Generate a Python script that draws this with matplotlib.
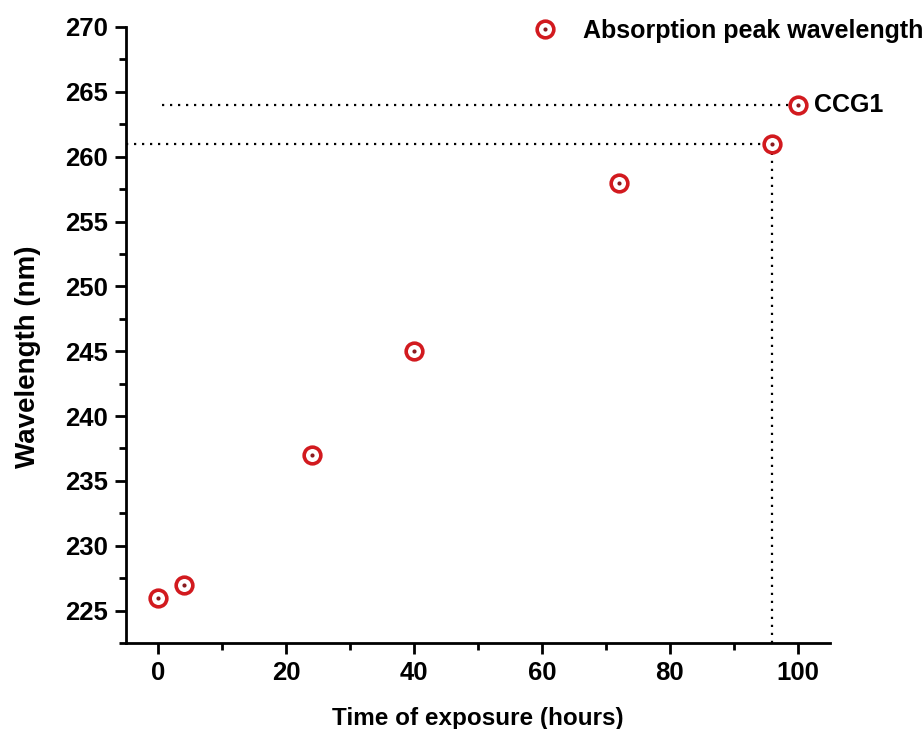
import numpy as np
import matplotlib
matplotlib.use("Agg")
import matplotlib.pyplot as plt
from matplotlib.ticker import MultipleLocator

plt.rcParams['font.family'] = ['Liberation Sans', 'DejaVu Sans']
plt.rcParams['font.weight'] = 'bold'

# data
hours = [0, 4, 24, 40, 72, 96, 100]
wavelength = [226, 227, 237, 245, 258, 261, 264]
guide_x = 96
guide_y = 261
ccg1_x = 100
ccg1_y = 264

fig = plt.figure(figsize=(9.24, 7.29), dpi=100)
ax = fig.add_axes([0.1364, 0.118, 0.898 - 0.1364, 0.963 - 0.118])

# dotted guide lines
ax.plot([-5, guide_x], [guide_y, guide_y], color='k', lw=1.6, dashes=(1, 2.6))
ax.plot([guide_x, guide_x], [222.5, guide_y], color='k', lw=1.6, dashes=(1, 2.6))
ax.plot([0.6, ccg1_x], [ccg1_y, ccg1_y], color='k', lw=1.6, dashes=(1, 2.6))

red = '#d21a1f'
h1, = ax.plot(hours, wavelength, 'o', ms=12, mfc='white', mec=red, mew=2.6, zorder=3)
h2, = ax.plot(hours, wavelength, 'o', ms=3, mfc='#8a1a1f', mec='#8a1a1f', mew=0, zorder=4)

ax.text(ccg1_x + 2.5, ccg1_y, 'CCG1', fontsize=18, fontweight='bold', va='center', ha='left')

leg = ax.legend([(h1, h2)], ['Absorption peak wavelength'], loc='center left',
                bbox_to_anchor=(0.563, 0.958), bbox_transform=fig.transFigure,
                frameon=False, fontsize=18, handlelength=1.0, handletextpad=1.0,
                borderpad=0)

ax.set_xlim(-5, 105)
ax.set_ylim(222.5, 270)
ax.xaxis.set_major_locator(MultipleLocator(20))
ax.xaxis.set_minor_locator(MultipleLocator(10))
ax.yaxis.set_major_locator(MultipleLocator(5))
ax.yaxis.set_minor_locator(MultipleLocator(2.5))

for s in ['top', 'right']:
    ax.spines[s].set_visible(False)
for s in ['left', 'bottom']:
    ax.spines[s].set_linewidth(2)

ax.tick_params(which='major', direction='out', length=8, width=2, labelsize=18.5, pad=5)
ax.tick_params(which='minor', direction='out', length=5, width=2)
for lab in ax.get_xticklabels() + ax.get_yticklabels():
    lab.set_fontweight('bold')

ax.set_xlabel('Time of exposure (hours)', fontsize=17.5, fontweight='bold', labelpad=16)
ax.set_ylabel('Wavelength (nm)', fontsize=20, fontweight='bold')
ax.yaxis.set_label_coords(-0.121, 0.464)

fig.savefig('out.png', dpi=100)
